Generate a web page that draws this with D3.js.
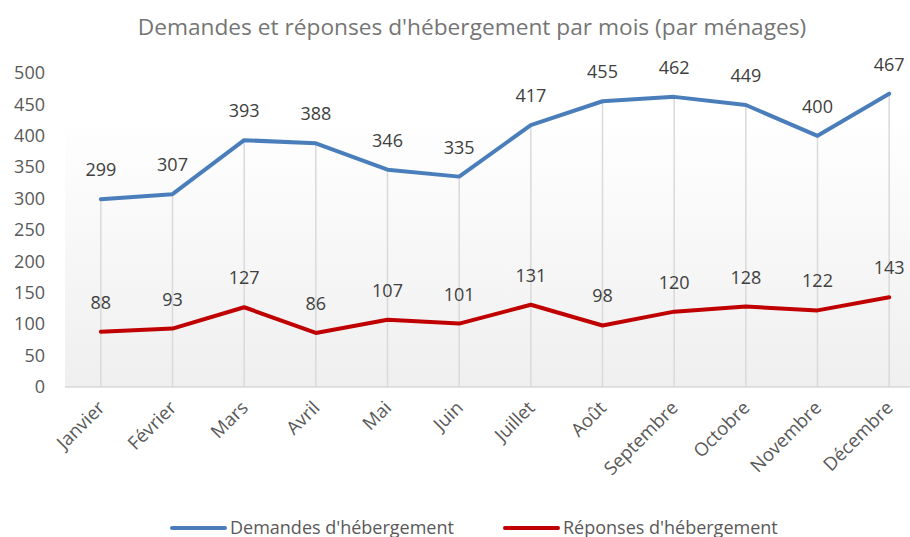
<!DOCTYPE html>
<html>
<head>
<meta charset="utf-8">
<script src="https://cdn.jsdelivr.net/npm/d3@7"></script>
<style>
  body { margin: 0; background: #fff; }
  text { font-family: "Open Sans", sans-serif; }
</style>
</head>
<body>
<svg id="chart" width="910" height="537"></svg>
<script>
// donnees du graphique
var mois = ["Janvier", "Février", "Mars", "Avril", "Mai", "Juin", "Juillet", "Août", "Septembre", "Octobre", "Novembre", "Décembre"];
var demandes = [299, 307, 393, 388, 346, 335, 417, 455, 462, 449, 400, 467];
var reponses = [88, 93, 127, 86, 107, 101, 131, 98, 120, 128, 122, 143];
var yTicks = [0, 50, 100, 150, 200, 250, 300, 350, 400, 450, 500];

var svg = d3.select("#chart");

var zone = { gauche: 65, droite: 925, haut: 73, bas: 387, fond: 115 };

var x = d3.scalePoint().domain(mois).range([zone.gauche, zone.droite]).padding(0.5);
var y = d3.scaleLinear().domain([0, 500]).range([zone.bas, zone.haut]);

// degrade du fond
var grad = svg.append("defs").append("linearGradient")
  .attr("id", "fond").attr("x1", 0).attr("y1", 0).attr("x2", 0).attr("y2", 1);
grad.append("stop").attr("offset", "0%").attr("stop-color", "#ffffff");
grad.append("stop").attr("offset", "100%").attr("stop-color", "#efefef");

svg.append("rect")
  .attr("x", zone.gauche).attr("y", zone.fond)
  .attr("width", zone.droite - zone.gauche).attr("height", zone.bas - zone.fond)
  .attr("fill", "url(#fond)");

// titre
svg.append("text")
  .attr("x", 472).attr("y", 35)
  .attr("text-anchor", "middle")
  .style("font-size", "22.7px")
  .style("fill", "#757575")
  .text("Demandes et réponses d'hébergement par mois (par ménages)");

// lignes de projection
svg.selectAll(".drop")
  .data(mois)
  .enter().append("line")
    .attr("x1", function(d) { return x(d); })
    .attr("x2", function(d) { return x(d); })
    .attr("y1", y(0))
    .attr("y2", function(d, i) { return y(Math.max(demandes[i], reponses[i])); })
    .style("stroke", "#d9d9d9")
    .style("stroke-width", 1.5);

// axe x
svg.append("line")
  .attr("x1", zone.gauche).attr("x2", zone.droite)
  .attr("y1", y(0)).attr("y2", y(0))
  .style("stroke", "#d9d9d9")
  .style("stroke-width", 1.5);

// etiquettes y
var axeY = d3.axisLeft(y).tickValues(yTicks).tickSize(0).tickPadding(0);
var gY = svg.append("g").attr("transform", "translate(45,0)").call(axeY);
gY.select(".domain").remove();
gY.selectAll("text")
  .style("font-family", "'Open Sans', sans-serif")
  .style("font-size", "18px")
  .style("fill", "#595959");

// etiquettes x
svg.selectAll(".mois")
  .data(mois)
  .enter().append("text")
    .attr("text-anchor", "end")
    .attr("transform", function(d) { return "translate(" + (x(d) + 5) + ",409) rotate(-45)"; })
    .style("font-size", "18.5px")
    .style("fill", "#595959")
    .text(function(d) { return d; });

var series = [
  { nom: "Demandes d'hébergement", valeurs: demandes, couleur: "#4a7ebb" },
  { nom: "Réponses d'hébergement", valeurs: reponses, couleur: "#c00000" }
];

var ligne = d3.line()
  .x(function(d, i) { return x(mois[i]); })
  .y(function(d) { return y(d); });

series.forEach(function(s) {
  svg.append("path")
    .datum(s.valeurs)
    .attr("d", ligne)
    .style("fill", "none")
    .style("stroke", s.couleur)
    .style("stroke-width", 4)
    .style("stroke-linejoin", "round")
    .style("stroke-linecap", "round");

  svg.selectAll(null)
    .data(s.valeurs)
    .enter().append("text")
      .attr("x", function(d, i) { return x(mois[i]); })
      .attr("y", function(d) { return y(d) - 23; })
      .attr("text-anchor", "middle")
      .style("font-size", "18px")
      .style("fill", "#404040")
      .text(function(d) { return d; });
});

// legende
var legX = [172, 505];
series.forEach(function(s, i) {
  svg.append("line")
    .attr("x1", legX[i]).attr("x2", legX[i] + 53)
    .attr("y1", 528).attr("y2", 528)
    .style("stroke", s.couleur)
    .style("stroke-width", 4)
    .style("stroke-linecap", "round");
  svg.append("text")
    .attr("x", legX[i] + 58).attr("y", 534)
    .style("font-size", "18px")
    .style("fill", "#595959")
    .text(s.nom);
});
</script>
</body>
</html>
